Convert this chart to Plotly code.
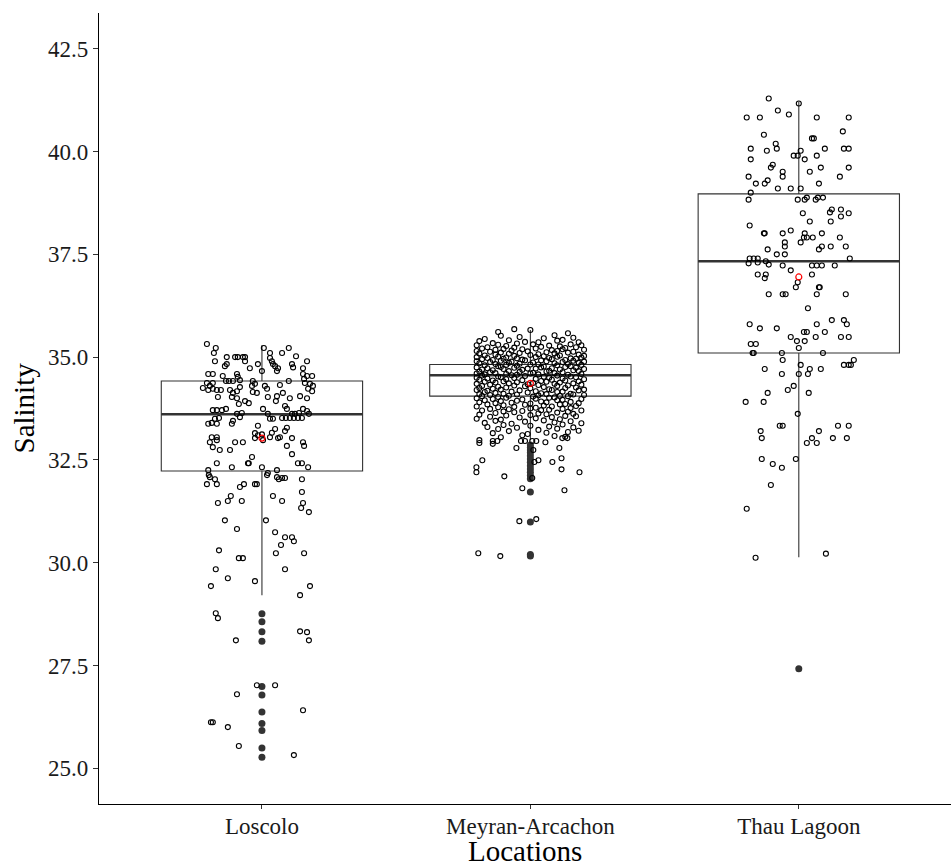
import plotly.graph_objects as go

# ---------------- data ----------------
locations = ["Loscolo", "Meyran-Arcachon", "Thau Lagoon"]

# box statistics
q1 = [32.23, 34.05, 35.10]
median = [33.61, 34.56, 37.33]
q3 = [34.42, 34.82, 38.97]
lower_whisker = [29.21, 32.98, 30.13]
upper_whisker = [35.29, 35.66, 41.21]
means = [33.03, 34.36, 36.95]

# outliers (drawn at category centre)
loscolo_out = [28.76, 28.56, 28.32, 28.09, 26.99, 26.78, 26.37, 26.09, 25.92, 25.49, 25.27]
meyran_out = [32.86, 32.80, 32.74, 32.68, 32.60, 32.52, 32.44, 32.36, 32.28, 32.20, 32.12, 32.04, 31.72, 30.99, 30.20, 30.16]
thau_out = [27.42]

# jittered observations: (horizontal jitter offset in category units, salinity)
loscolo_pts = [
    (-0.205, 35.32), (-0.172, 35.22), (-0.179, 35.10), (-0.175, 34.90), (0.007, 35.22), (0.10, 35.22),
    (0.03, 35.10), (0.075, 35.10), (0.127, 35.02), (-0.131, 35.0), (-0.10, 35.0), (-0.09, 35.0),
    (-0.071, 35.0), (-0.063, 35.0), (0.03, 34.98), (0.037, 34.90), (0.168, 34.90), (-0.063, 34.90),
    (-0.131, 34.83), (-0.138, 34.78), (0.041, 34.83), (0.049, 34.78), (0.112, 34.83), (0.116, 34.75),
    (-0.015, 34.83), (-0.045, 34.73), (0.06, 34.73), (0.056, 34.66), (0.0, 34.66), (0.153, 34.73),
    (0.153, 34.59), (-0.20, 34.59), (-0.183, 34.59), (-0.146, 34.54), (-0.093, 34.59), (-0.09, 34.52),
    (0.168, 34.54), (0.187, 34.54), (0.157, 34.47), (-0.123, 34.42), (-0.108, 34.42), (-0.134, 34.42),
    (-0.082, 34.44), (-0.205, 34.37), (-0.183, 34.37), (-0.194, 34.30), (-0.034, 34.42), (-0.037, 34.30),
    (-0.026, 34.35), (0.011, 34.30), (0.019, 34.23), (0.067, 34.32), (0.10, 34.42), (0.16, 34.37),
    (0.179, 34.35), (0.19, 34.30), (0.172, 34.23), (0.187, 34.17), (-0.22, 34.25), (-0.20, 34.20),
    (-0.183, 34.23), (-0.168, 34.20), (-0.153, 34.20), (-0.119, 34.20), (-0.108, 34.13), (-0.093, 34.17),
    (-0.082, 34.27), (-0.034, 34.15), (-0.019, 34.13), (-0.164, 34.03), (-0.112, 34.03), (-0.093, 34.00),
    (-0.063, 33.93), (-0.049, 33.88), (0.022, 34.03), (0.056, 34.05), (0.052, 33.93), (0.078, 34.13),
    (0.104, 34.00), (0.142, 34.05), (0.168, 34.00), (-0.086, 33.86), (-0.183, 33.71), (-0.168, 33.71),
    (-0.149, 33.71), (-0.134, 33.74), (-0.075, 33.64), (-0.093, 33.62), (-0.082, 33.54), (0.004, 33.74),
    (0.022, 33.62), (0.086, 33.81), (0.093, 33.74), (0.112, 33.62), (0.123, 33.62), (0.138, 33.64),
    (0.153, 33.74), (0.168, 33.69), (0.175, 33.62), (0.075, 33.52), (0.089, 33.52), (0.104, 33.52),
    (0.119, 33.52), (0.134, 33.52), (0.149, 33.52), (0.03, 33.50), (0.041, 33.50), (-0.175, 33.50),
    (-0.16, 33.52), (-0.187, 33.40), (-0.20, 33.38), (-0.168, 33.38), (-0.108, 33.45), (-0.112, 33.38),
    (-0.015, 33.33), (0.093, 33.28), (0.086, 33.20), (0.049, 33.25), (0.037, 33.16), (-0.187, 33.05),
    (-0.168, 33.05), (-0.194, 32.93), (-0.168, 32.98), (-0.183, 32.81), (-0.10, 32.93), (-0.071, 32.93),
    (-0.026, 33.15), (-0.015, 33.10), (0.0, 33.12), (-0.026, 33.03), (0.004, 32.98), (0.03, 33.05),
    (0.067, 33.05), (0.06, 33.03), (0.112, 33.03), (0.093, 32.84), (0.153, 32.93), (0.157, 32.84),
    (-0.157, 32.74), (-0.119, 32.74), (-0.037, 32.57), (-0.052, 32.42), (0.112, 32.64), (-0.168, 32.42),
    (-0.112, 32.32), (0.0, 32.32), (0.022, 32.18), (0.134, 32.42), (0.149, 32.42), (0.172, 32.32),
    (-0.20, 32.25), (-0.194, 32.08), (0.056, 32.08), (0.075, 32.06), (0.086, 32.06), (-0.198, 32.13),
    (-0.205, 31.91), (-0.175, 32.03), (-0.168, 31.91), (-0.082, 31.84), (-0.067, 31.91), (-0.026, 31.91),
    (-0.019, 31.91), (0.019, 32.13), (0.063, 32.03), (0.149, 32.03), (0.149, 31.72), (0.041, 31.62),
    (-0.116, 31.62), (-0.127, 31.50), (-0.164, 31.45), (-0.075, 31.50), (0.075, 31.50), (0.153, 31.45),
    (0.146, 31.33), (0.175, 31.23), (-0.138, 31.03), (0.015, 31.03), (-0.093, 30.82), (0.049, 30.74),
    (0.086, 30.62), (0.112, 30.62), (0.119, 30.52), (0.071, 30.43), (-0.16, 30.30), (0.052, 30.23),
    (0.157, 30.23), (-0.086, 30.11), (-0.071, 30.11), (-0.172, 29.84), (0.086, 29.84), (-0.127, 29.62),
    (-0.026, 29.55), (-0.19, 29.43), (0.179, 29.43), (0.142, 29.21), (-0.049, 32.42), (0.056, 32.25),
    (-0.172, 28.77), (-0.164, 28.65), (0.142, 28.33), (0.168, 28.31), (-0.097, 28.11), (0.175, 28.11),
    (-0.019, 27.02), (0.049, 27.02), (-0.093, 26.80), (0.153, 26.41), (-0.19, 26.12), (-0.183, 26.12),
    (-0.127, 26.00), (-0.086, 25.54), (0.119, 25.32),
]

meyran_pts = [
    (-0.06, 35.68), (0.0, 35.66), (-0.12, 35.61), (0.14, 35.58), (-0.11, 35.52), (-0.04, 35.49), (0.09, 35.53), (0.16, 35.47),
    (-0.17, 35.44), (0.05, 35.46), (0.12, 35.42), (-0.19, 35.39), (-0.08, 35.41), (-0.02, 35.37), (0.10, 35.40), (0.18, 35.36),
    (-0.14, 35.34), (-0.05, 35.33), (0.03, 35.36), (0.15, 35.31), (-0.20, 35.29), (-0.12, 35.30), (-0.09, 35.27), (0.01, 35.31),
    (0.07, 35.28), (0.11, 35.26), (0.19, 35.29), (-0.16, 35.24), (-0.06, 35.23), (0.04, 35.25), (0.13, 35.22), (0.17, 35.24),
    (-0.18, 35.21), (-0.13, 35.18), (-0.10, 35.20), (-0.03, 35.19), (0.02, 35.21), (0.08, 35.17), (0.12, 35.19), (0.20, 35.18),
    (-0.20, 35.15), (-0.15, 35.13), (-0.07, 35.16), (-0.01, 35.14), (0.06, 35.12), (0.10, 35.15), (0.16, 35.13), (-0.19, 35.09),
    (-0.11, 35.11), (-0.08, 35.08), (-0.04, 35.10), (0.03, 35.07), (0.09, 35.09), (0.14, 35.11), (0.18, 35.06), (-0.17, 35.04),
    (-0.13, 35.06), (-0.06, 35.03), (0.00, 35.05), (0.05, 35.02), (0.11, 35.04), (0.20, 35.03), (-0.20, 35.00), (-0.16, 34.98),
    (-0.12, 35.01), (-0.09, 34.99), (-0.05, 34.97), (0.02, 35.00), (0.07, 34.98), (0.10, 35.01), (0.15, 34.97), (0.19, 34.99),
    (-0.18, 34.95), (-0.14, 34.93), (-0.10, 34.96), (-0.03, 34.94), (0.04, 34.92), (0.08, 34.95), (0.13, 34.93), (0.17, 34.96),
    (-0.20, 34.90), (-0.15, 34.88), (-0.11, 34.91), (-0.07, 34.89), (-0.02, 34.92), (0.01, 34.87), (0.06, 34.90), (0.12, 34.88),
    (0.16, 34.91), (0.20, 34.89), (-0.19, 34.85), (-0.13, 34.83), (-0.08, 34.86), (-0.04, 34.84), (0.03, 34.82), (0.09, 34.85),
    (0.14, 34.83), (0.18, 34.86), (-0.17, 34.80), (-0.12, 34.78), (-0.09, 34.81), (-0.05, 34.79), (0.00, 34.82), (0.05, 34.77),
    (0.10, 34.80), (0.15, 34.78), (0.19, 34.81), (-0.20, 34.75), (-0.16, 34.73), (-0.11, 34.76), (-0.06, 34.74), (-0.01, 34.72),
    (0.04, 34.75), (0.08, 34.73), (0.13, 34.76), (0.17, 34.74), (-0.18, 34.70), (-0.14, 34.68), (-0.10, 34.71), (-0.03, 34.69),
    (0.02, 34.72), (0.07, 34.67), (0.11, 34.70), (0.16, 34.68), (0.20, 34.71), (-0.19, 34.65), (-0.15, 34.63), (-0.08, 34.66),
    (-0.04, 34.64), (0.01, 34.62), (0.06, 34.65), (0.12, 34.63), (0.18, 34.66), (-0.20, 34.60), (-0.17, 34.58), (-0.13, 34.61),
    (-0.09, 34.59), (-0.05, 34.57), (0.00, 34.60), (0.03, 34.58), (0.09, 34.61), (0.14, 34.57), (0.19, 34.59), (-0.18, 34.55),
    (-0.12, 34.53), (-0.07, 34.56), (-0.02, 34.54), (0.05, 34.52), (0.10, 34.55), (0.15, 34.53), (-0.20, 34.50), (-0.16, 34.48),
    (-0.11, 34.51), (-0.06, 34.49), (0.02, 34.47), (0.07, 34.50), (0.12, 34.48), (0.17, 34.51), (0.20, 34.46), (-0.19, 34.45),
    (-0.14, 34.43), (-0.09, 34.46), (-0.03, 34.44), (0.04, 34.42), (0.08, 34.45), (0.13, 34.43), (0.18, 34.41), (-0.17, 34.40),
    (-0.13, 34.38), (-0.10, 34.41), (-0.05, 34.39), (0.01, 34.37), (0.06, 34.40), (0.11, 34.38), (0.16, 34.36), (-0.20, 34.35),
    (-0.15, 34.33), (-0.08, 34.36), (-0.01, 34.34), (0.03, 34.32), (0.09, 34.35), (0.14, 34.31), (0.19, 34.33), (-0.18, 34.30),
    (-0.12, 34.28), (-0.06, 34.31), (-0.02, 34.29), (0.05, 34.27), (0.10, 34.30), (0.17, 34.26), (-0.19, 34.25), (-0.14, 34.23),
    (-0.09, 34.26), (0.00, 34.24), (0.07, 34.22), (0.13, 34.25), (0.20, 34.21), (-0.20, 34.20), (-0.16, 34.18), (-0.11, 34.21),
    (-0.04, 34.19), (0.02, 34.17), (0.08, 34.20), (0.12, 34.16), (0.18, 34.19), (-0.17, 34.15), (-0.13, 34.13), (-0.07, 34.16),
    (-0.01, 34.14), (0.04, 34.12), (0.10, 34.15), (0.15, 34.11), (-0.19, 34.10), (-0.15, 34.08), (-0.10, 34.11), (-0.05, 34.09),
    (0.03, 34.07), (0.06, 34.10), (0.11, 34.06), (0.16, 34.09), (0.20, 34.08), (-0.18, 34.05), (-0.12, 34.03), (-0.08, 34.06),
    (0.01, 34.04), (0.09, 34.02), (0.14, 34.05), (-0.20, 34.00), (-0.14, 33.98), (-0.09, 34.01), (-0.03, 33.97), (0.02, 33.99),
    (0.07, 34.01), (0.12, 33.96), (0.19, 33.98), (-0.17, 33.95), (-0.11, 33.93), (-0.05, 33.94), (0.04, 33.92), (0.10, 33.95),
    (0.15, 33.91), (-0.19, 33.90), (-0.13, 33.88), (-0.07, 33.89), (0.00, 33.87), (0.06, 33.90), (0.13, 33.86), (0.18, 33.88),
    (-0.16, 33.85), (-0.10, 33.83), (-0.02, 33.84), (0.05, 33.82), (0.11, 33.85), (0.17, 33.81), (-0.20, 33.80), (-0.12, 33.78),
    (-0.06, 33.79), (0.02, 33.77), (0.08, 33.80), (0.15, 33.76), (-0.15, 33.74), (-0.08, 33.73), (0.00, 33.75), (0.07, 33.72),
    (0.12, 33.74), (-0.18, 33.70), (-0.10, 33.68), (-0.03, 33.69), (0.04, 33.71), (0.14, 33.67), (0.19, 33.70), (-0.13, 33.64),
    (-0.06, 33.66), (0.03, 33.63), (0.10, 33.65), (0.16, 33.62), (-0.19, 33.60), (-0.09, 33.58), (0.00, 33.59), (0.06, 33.61),
    (0.13, 33.57), (-0.15, 33.55), (-0.04, 33.53), (0.08, 33.54), (0.17, 33.56), (-0.20, 33.50), (-0.11, 33.48), (0.02, 33.51),
    (0.11, 33.49), (-0.13, 33.45), (-0.02, 33.43), (0.05, 33.46), (0.15, 33.44), (-0.17, 33.40), (-0.07, 33.38), (0.09, 33.41),
    (0.19, 33.39), (-0.10, 33.35), (0.00, 33.33), (0.12, 33.36), (-0.16, 33.30), (-0.05, 33.28), (0.07, 33.31), (0.16, 33.29),
    (-0.12, 33.25), (0.03, 33.23), (0.10, 33.26), (-0.08, 33.20), (0.14, 33.18), (0.18, 33.21), (-0.14, 33.15), (-0.01, 33.13),
    (0.06, 33.16), (-0.03, 33.10), (0.09, 33.08), (-0.11, 33.05), (0.13, 33.06),
    # sparse lower part
    (-0.19, 32.98), (-0.19, 32.91), (-0.14, 32.96), (-0.14, 32.89), (-0.123, 32.96),
    (-0.035, 32.96), (-0.02, 32.96), (0.007, 32.96), (0.022, 32.96), (-0.052, 32.79),
    (0.056, 32.93), (0.108, 32.79), (0.119, 33.03), (0.138, 33.03), (-0.179, 32.49),
    (-0.201, 32.32), (-0.201, 32.20), (-0.097, 32.10), (0.011, 32.74), (0.03, 32.49),
    (0.015, 32.45), (0.082, 32.45), (0.116, 32.54), (0.116, 32.27), (0.183, 32.20),
    (0.007, 32.06), (-0.03, 31.81), (0.127, 31.76), (-0.041, 31.01), (0.022, 31.06),
    (-0.194, 30.23), (-0.112, 30.16),
]

thau_pts = [
    (-0.112, 41.29), (0.0, 41.17), (-0.078, 41.0), (-0.037, 40.9), (-0.194, 40.83), (-0.145, 40.83),
    (0.067, 40.83), (0.186, 40.83), (0.164, 40.49), (-0.13, 40.41), (0.049, 40.32), (0.056, 40.32),
    (-0.086, 40.19), (-0.179, 40.07), (-0.082, 40.07), (0.097, 40.07), (0.168, 40.07), (0.186, 40.07),
    (-0.119, 40.02), (0.007, 40.02), (-0.019, 39.90), (-0.004, 39.90), (0.067, 39.90), (-0.179, 39.81),
    (0.022, 39.81), (-0.097, 39.68), (-0.104, 39.61), (0.082, 39.61), (0.186, 39.61), (-0.06, 39.51),
    (0.041, 39.51), (-0.187, 39.39), (-0.06, 39.39), (0.153, 39.39), (-0.116, 39.30), (-0.16, 39.22),
    (-0.127, 39.22), (0.075, 39.22), (-0.179, 39.0), (-0.078, 39.10), (-0.03, 39.10), (0.007, 39.10),
    (-0.187, 38.83), (-0.004, 38.83), (0.022, 38.83), (0.03, 38.88), (0.063, 38.83), (0.071, 38.88),
    (0.09, 38.88), (0.123, 38.59), (0.116, 38.52), (0.157, 38.59), (0.157, 38.42), (0.186, 38.50),
    (0.015, 38.50), (0.119, 38.30), (0.041, 38.30), (-0.183, 38.20), (-0.13, 38.01), (-0.127, 38.01),
    (-0.06, 38.01), (-0.03, 38.08), (0.022, 38.01), (0.086, 38.01), (0.019, 37.91), (0.03, 37.91),
    (0.052, 37.91), (0.153, 37.91), (-0.052, 37.79), (0.007, 37.79), (-0.052, 37.69), (0.086, 37.69),
    (0.119, 37.69), (0.175, 37.69), (0.075, 37.62), (-0.116, 37.62), (-0.082, 37.50), (-0.052, 37.50),
    (-0.183, 37.40), (-0.168, 37.40), (-0.153, 37.40), (0.19, 37.40), (-0.187, 37.28), (-0.153, 37.30),
    (-0.123, 37.33), (-0.112, 37.25), (-0.06, 37.23), (0.049, 37.23), (0.067, 37.23), (0.086, 37.23),
    (0.134, 37.23), (-0.03, 37.11), (-0.153, 37.01), (-0.123, 37.01), (0.049, 37.01), (-0.127, 36.92),
    (-0.004, 36.82), (-0.011, 36.70), (0.075, 36.70), (0.078, 36.70), (-0.112, 36.53),
    (-0.06, 36.53), (-0.049, 36.53), (0.067, 36.53), (0.175, 36.53), (0.034, 36.19), (-0.183, 35.80),
    (-0.145, 35.70), (-0.082, 35.70), (0.067, 35.80), (0.123, 35.90), (0.168, 35.90), (0.179, 35.80),
    (-0.03, 35.49), (-0.007, 35.39), (0.019, 35.61), (0.03, 35.61), (0.022, 35.39), (0.063, 35.49),
    (0.097, 35.61), (0.157, 35.49), (0.186, 35.49), (-0.179, 35.32), (-0.16, 35.32), (0.0, 35.22),
    (-0.172, 35.10), (-0.168, 35.10), (-0.063, 35.10), (0.09, 35.10), (-0.06, 34.93), (0.205, 34.93),
    (0.168, 34.81), (0.186, 34.81), (0.194, 34.81), (-0.127, 34.71), (0.007, 34.81), (0.041, 34.71),
    (0.082, 34.71), (-0.063, 34.59), (0.0, 34.59), (0.034, 34.59), (-0.019, 34.30), (-0.041, 34.20),
    (-0.116, 34.13), (0.037, 34.13), (-0.198, 33.91), (-0.131, 33.91), (-0.004, 33.62), (-0.071, 33.33),
    (-0.06, 33.33), (0.146, 33.33), (0.186, 33.33), (-0.142, 33.20), (0.075, 33.20), (-0.138, 33.03),
    (0.049, 33.03), (0.127, 33.03), (0.179, 33.03), (0.03, 32.91), (0.067, 32.91), (-0.138, 32.52),
    (-0.011, 32.52), (-0.097, 32.40), (-0.063, 32.31), (-0.104, 31.89), (-0.194, 31.31), (-0.161, 30.12),
    (0.101, 30.22),
]

y_ticks = [25.0, 27.5, 30.0, 32.5, 35.0, 37.5, 40.0, 42.5]

# ---------------- assemble ----------------
points = [loscolo_pts, meyran_pts, thau_pts]
outliers = [loscolo_out, meyran_out, thau_out]

BOX_W = 0.75
DARK = "#333333"
fig = go.Figure()

for i, name in enumerate(locations):
    fig.add_trace(go.Box(
        x=[i], q1=[q1[i]], median=[median[i]], q3=[q3[i]],
        lowerfence=[lower_whisker[i]], upperfence=[upper_whisker[i]],
        width=BOX_W, whiskerwidth=0, boxpoints=False,
        line=dict(color=DARK, width=1.1), fillcolor="rgba(0,0,0,0)",
        showlegend=False, hoverinfo="skip",
    ))
    # thicker median line, like ggplot
    fig.add_trace(go.Scatter(
        x=[i - BOX_W / 2, i + BOX_W / 2], y=[median[i], median[i]],
        mode="lines", line=dict(color=DARK, width=2.6),
        showlegend=False, hoverinfo="skip",
    ))

for i in range(3):
    fig.add_trace(go.Scatter(
        x=[i] * len(outliers[i]), y=outliers[i], mode="markers",
        marker=dict(symbol="circle", size=7, color=DARK, line=dict(width=0)),
        showlegend=False, hoverinfo="skip",
    ))

for i in range(3):
    xs = [i + o for o, v in points[i]]
    ys = [v for o, v in points[i]]
    fig.add_trace(go.Scatter(
        x=xs, y=ys, mode="markers",
        marker=dict(symbol="circle-open", size=5, color="black", line=dict(width=1.1)),
        showlegend=False, hoverinfo="skip",
    ))

fig.add_trace(go.Scatter(
    x=[0, 1, 2], y=means, mode="markers",
    marker=dict(symbol="circle-open", size=6, color="red", line=dict(width=1.2)),
    showlegend=False, hoverinfo="skip",
))

FONT = "Liberation Serif, Times New Roman, serif"
fig.update_layout(
    width=951, height=865,
    margin=dict(l=99, r=0, t=13, b=61, autoexpand=False),
    plot_bgcolor="white", paper_bgcolor="white",
    font=dict(family=FONT, color="black"),
    xaxis=dict(
        range=[-0.607, 2.567], tickvals=[0, 1, 2], ticktext=locations,
        showgrid=False, zeroline=False, showline=True, linecolor="black", linewidth=1.2,
        ticks="outside", ticklen=4, tickcolor="#333333", tickwidth=1,
        tickfont=dict(size=23, family=FONT, color="#1a1a1a"),
        ticklabelstandoff=-3, automargin=False,
    ),
    yaxis=dict(
        range=[24.13, 43.37], tickvals=y_ticks, tickformat=".1f",
        showgrid=False, zeroline=False, showline=True, linecolor="black", linewidth=1.2,
        ticks="outside", ticklen=5, tickcolor="#333333", tickwidth=1,
        tickfont=dict(size=23, family=FONT, color="#1a1a1a"),
        automargin=False,
    ),
    annotations=[
        dict(text="Locations", xref="paper", yref="paper", x=0.5, y=0,
             xanchor="center", yanchor="middle", yshift=-47, showarrow=False,
             font=dict(size=29, family=FONT, color="black")),
        dict(text="Salinity", xref="paper", yref="paper", x=0, y=0.5,
             xanchor="center", yanchor="middle", xshift=-76, textangle=-90, showarrow=False,
             font=dict(size=29, family=FONT, color="black")),
    ],
)

fig.write_html("out.html", config={"displayModeBar": False},
               post_script="document.body.style.margin='0';")
